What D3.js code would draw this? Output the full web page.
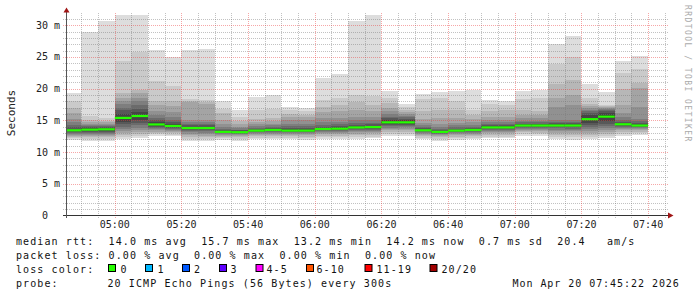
<!DOCTYPE html>
<html><head><meta charset="utf-8">
<script src="https://cdn.jsdelivr.net/npm/d3@7"></script>
<style>
html,body{margin:0;padding:0;background:#fff;}
svg{display:block;}
text{font-family:"DejaVu Sans Mono",monospace;white-space:pre;}
</style></head><body>
<svg id="c" width="697" height="297" xml:space="preserve"></svg>
<script>
// ---------- DATA ----------
const graphStart = "2026-04-20T04:45:22";
const graphEnd   = "2026-04-20T07:45:22";
const barEnds = ["04:50","04:55","05:00","05:05","05:10","05:15","05:20","05:25","05:30","05:35",
  "05:40","05:45","05:50","05:55","06:00","06:05","06:10","06:15","06:20","06:25",
  "06:30","06:35","06:40","06:45","06:50","06:55","07:00","07:05","07:10","07:15",
  "07:20","07:25","07:30","07:35","07:40"];
// median RTT (ms) per 5-minute step
const medians = [13.45,13.55,13.6,15.4,15.7,14.37,14.13,13.8,13.8,13.2,
  13.15,13.4,13.5,13.4,13.4,13.65,13.7,13.9,13.95,14.7,
  14.7,13.45,13.2,13.4,13.5,13.9,13.9,14.2,14.2,14.2,
  14.2,15.2,15.6,14.4,14.2];
// 20 sorted ping RTTs (ms) per step
const pings = [
 [11.97,12.2,12.4,12.6,12.75,12.9,13.0,13.15,13.3,13.4,13.5,13.7,13.9,14.3,14.8,15.2,16.2,16.9,18.1,19.3],
 [11.76,12.0,12.3,12.5,12.7,12.85,13.0,13.15,13.3,13.45,13.65,13.8,13.95,14.1,14.3,14.5,14.75,15.0,15.65,28.94],
 [11.76,12.0,12.3,12.5,12.7,12.9,13.05,13.2,13.35,13.5,13.7,13.85,14.0,14.15,14.3,14.5,14.7,14.95,15.3,30.6],
 [12.0,12.4,12.7,13.0,13.3,13.6,14.0,14.4,14.8,15.2,15.6,16.0,16.6,17.0,17.6,18.1,18.6,19.3,24.4,31.6],
 [12.2,12.5,12.8,13.1,13.4,13.8,14.2,14.6,15.0,15.5,15.9,16.3,16.8,17.4,18.0,18.6,19.3,19.86,25.8,31.6],
 [12.55,12.8,13.0,13.2,13.4,13.6,13.8,14.0,14.15,14.3,14.45,14.7,15.0,15.4,15.9,16.5,17.4,18.07,21.17,26.06],
 [12.55,12.75,12.95,13.15,13.35,13.5,13.65,13.8,13.95,14.05,14.2,14.4,14.7,15.1,15.6,16.3,17.2,18.1,20.4,25.0],
 [11.8,12.1,12.4,12.65,12.9,13.1,13.3,13.45,13.6,13.75,13.85,14.0,14.2,14.45,14.7,15.0,17.9,18.1,18.4,26.06],
 [11.76,12.05,12.35,12.6,12.85,13.05,13.25,13.45,13.6,13.75,13.85,14.0,14.2,14.4,14.7,15.0,17.6,17.9,18.2,26.2],
 [11.97,12.2,12.4,12.55,12.7,12.85,12.95,13.05,13.1,13.15,13.25,13.35,13.5,13.7,14.0,14.4,15.0,16.1,16.76,18.07],
 [11.8,12.05,12.3,12.5,12.65,12.8,12.9,13.0,13.05,13.1,13.2,13.3,13.4,13.55,13.75,14.0,14.4,14.9,15.5,16.6],
 [12.0,12.25,12.5,12.7,12.85,13.0,13.1,13.2,13.3,13.35,13.45,13.55,13.7,13.85,14.1,14.4,14.8,15.2,16.7,18.7],
 [12.0,12.25,12.5,12.7,12.9,13.05,13.2,13.3,13.4,13.45,13.55,13.65,13.8,14.0,14.2,14.5,14.9,15.4,16.76,18.97],
 [12.0,12.25,12.5,12.7,12.85,13.0,13.1,13.2,13.3,13.35,13.45,13.6,13.8,14.1,14.5,15.0,15.6,16.0,16.6,17.1],
 [11.97,12.2,12.45,12.65,12.8,12.95,13.1,13.2,13.3,13.35,13.45,13.6,13.8,14.1,14.5,15.0,15.5,15.9,16.4,16.96],
 [12.0,12.3,12.55,12.8,12.95,13.1,13.25,13.4,13.5,13.6,13.7,13.85,14.0,14.3,14.7,15.3,16.3,17.1,18.2,21.6],
 [12.1,12.35,12.6,12.8,13.0,13.15,13.3,13.45,13.55,13.65,13.75,13.9,14.1,14.4,14.8,15.4,16.4,17.4,18.6,22.27],
 [12.1,12.4,12.65,12.9,13.1,13.3,13.45,13.6,13.75,13.85,13.95,14.1,14.3,14.6,15.0,15.6,16.6,17.9,18.97,30.63],
 [12.2,12.45,12.7,12.95,13.15,13.35,13.5,13.65,13.8,13.9,14.0,14.15,14.35,14.65,15.0,15.6,16.5,17.4,18.8,31.6],
 [12.5,12.8,13.1,13.4,13.65,13.85,14.05,14.25,14.45,14.6,14.8,15.0,15.3,15.6,16.0,16.5,17.0,17.8,18.6,19.6],
 [12.6,12.9,13.2,13.45,13.7,13.9,14.1,14.3,14.45,14.6,14.8,15.0,15.2,15.45,15.7,16.0,16.3,16.7,17.05,17.5],
 [12.0,12.25,12.5,12.7,12.85,13.0,13.15,13.25,13.35,13.4,13.5,13.6,13.75,13.95,14.2,14.6,15.2,16.5,18.3,19.1],
 [11.8,12.05,12.3,12.5,12.65,12.8,12.9,13.0,13.1,13.15,13.25,13.35,13.5,13.7,14.0,14.5,15.3,16.6,18.6,19.5],
 [11.97,12.2,12.45,12.65,12.8,12.95,13.1,13.2,13.3,13.35,13.45,13.55,13.7,13.9,14.2,14.6,15.3,16.6,18.1,19.65],
 [12.0,12.25,12.5,12.7,12.9,13.05,13.2,13.3,13.4,13.45,13.55,13.65,13.8,14.0,14.3,14.7,15.2,15.8,16.6,19.86],
 [12.2,12.45,12.7,12.95,13.15,13.35,13.5,13.65,13.75,13.85,13.95,14.05,14.2,14.45,14.75,15.1,15.6,16.4,17.6,18.17],
 [12.2,12.45,12.7,12.95,13.15,13.35,13.5,13.65,13.75,13.85,13.95,14.05,14.2,14.45,14.75,15.1,15.6,16.6,17.4,18.0],
 [12.6,12.85,13.1,13.35,13.55,13.7,13.85,13.95,14.05,14.15,14.25,14.35,14.5,14.7,14.95,15.3,15.9,16.6,18.3,19.65],
 [12.5,12.8,13.05,13.3,13.5,13.7,13.85,13.95,14.05,14.15,14.25,14.35,14.5,14.7,14.95,15.3,15.8,16.4,18.6,19.86],
 [12.0,12.35,12.7,13.0,13.3,13.55,13.75,13.9,14.05,14.15,14.25,14.4,14.6,14.8,15.0,17.1,18.6,20.8,23.96,27.1],
 [11.97,12.3,12.65,12.95,13.25,13.5,13.7,13.9,14.05,14.15,14.25,14.4,14.6,14.8,15.0,17.4,19.0,21.3,25.0,28.3],
 [12.1,12.4,12.7,13.0,13.3,13.6,13.9,14.2,14.6,15.0,15.4,15.8,16.1,16.4,16.7,17.0,17.3,17.6,18.6,20.8],
 [12.2,12.5,12.8,13.1,13.4,13.75,14.1,14.5,14.9,15.4,15.8,16.1,16.4,16.6,16.8,17.0,17.1,17.25,17.4,19.5],
 [12.55,12.85,13.15,13.4,13.6,13.8,13.95,14.1,14.25,14.35,14.45,14.6,14.8,15.1,15.5,16.1,17.4,19.9,22.5,24.4],
 [12.7,12.95,13.2,13.4,13.6,13.75,13.9,14.0,14.1,14.15,14.25,14.4,14.6,14.85,15.2,17.1,20.1,20.9,23.1,25.2]
];
const yTickValues = [0,5,10,15,20,25,30];
const yTickLabels = [" 0"," 5 m","10 m","15 m","20 m","25 m","30 m"];
const xTickLabels = ["05:00","05:20","05:40","06:00","06:20","06:40","07:00","07:20","07:40"];
const smokeShades = ["#dddddd","#cacaca","#b7b7b7","#a4a4a4","#919191","#7e7e7e","#6b6b6b","#585858","#454545","#323232"];
const lossLabels = ["0","1","2","3","4-5","6-10","11-19","20/20"];
const lossColors = ["#26ff00","#00b8ff","#0059ff","#5e00ff","#ff00ff","#ff5500","#ff0000","#a10000"];
const statsLine = "median rtt:  14.0 ms avg  15.7 ms max  13.2 ms min  14.2 ms now  0.7 ms sd  20.4   am/s";
const lossLine  = "packet loss: 0.00 % avg  0.00 % max  0.00 % min  0.00 % now";
const probeText = "20 ICMP Echo Pings (56 Bytes) every 300s";
const dateText  = "Mon Apr 20 07:45:22 2026";
const yTitle = "Seconds";
const watermark = "RRDTOOL / TOBI OETIKER";

// ---------- CHART ----------
const svg = d3.select("#c");
const day = "2026-04-20T";
const t0 = new Date(graphStart), t1 = new Date(graphEnd);
const x = d3.scaleTime().domain([t0, t1]).range([66, 666]);
const y = d3.scaleLinear().domain([0, 30]).range([215.5, 25.2]);
const plotTop = 15;

svg.append("defs").append("clipPath").attr("id","pc")
  .append("rect").attr("x",66).attr("y",plotTop).attr("width",600).attr("height",215.5-plotTop);

const bars = barEnds.map((e,i)=>{
  const end = new Date(day+e+":00");
  let start = new Date(end.getTime()-5*60000);
  if (start < t0) start = t0;
  return {start, end, p: pings[i], med: medians[i]};
});

const smoke = svg.append("g").attr("clip-path","url(#pc)");
for (let L=0; L<10; L++){
  smoke.selectAll(null).data(bars).join("rect")
    .attr("x", d=>x(d.start)).attr("width", d=>x(d.end)-x(d.start))
    .attr("y", d=>y(d.p[19-L])).attr("height", d=>y(d.p[L])-y(d.p[19-L]))
    .attr("fill", smokeShades[L]).attr("shape-rendering","crispEdges");
}

// grid
const grid = svg.append("g").attr("shape-rendering","crispEdges");
const minorH = d3.range(1, 32);
grid.selectAll(null).data(minorH.filter(v=>v%5!==0)).join("line")
  .attr("x1",63).attr("x2",669).attr("y1",d=>Math.round(y(d))+0.5).attr("y2",d=>Math.round(y(d))+0.5)
  .attr("stroke","rgba(120,120,120,0.45)").attr("stroke-dasharray","1,1");
const minorTimes = d3.timeMinute.every(5).range(new Date(day+"04:50:00"), t1);
grid.selectAll(null).data(minorTimes.filter(t=>t.getMinutes()%20!==0)).join("line")
  .attr("y1",13).attr("y2",218).attr("x1",d=>Math.round(x(d))+0.5).attr("x2",d=>Math.round(x(d))+0.5)
  .attr("stroke","rgba(120,120,120,0.45)").attr("stroke-dasharray","1,1");
grid.selectAll(null).data(yTickValues.filter(v=>v>0)).join("line")
  .attr("x1",63).attr("x2",669).attr("y1",d=>Math.round(y(d))+0.5).attr("y2",d=>Math.round(y(d))+0.5)
  .attr("stroke","rgba(235,60,60,0.45)").attr("stroke-dasharray","1,1");
const majorTimes = xTickLabels.map(s=>new Date(day+s+":00"));
grid.selectAll(null).data(majorTimes).join("line")
  .attr("y1",13).attr("y2",218).attr("x1",d=>Math.round(x(d))+0.5).attr("x2",d=>Math.round(x(d))+0.5)
  .attr("stroke","rgba(235,60,60,0.45)").attr("stroke-dasharray","1,1");

// median lines
svg.append("g").attr("clip-path","url(#pc)").selectAll(null).data(bars).join("rect")
  .attr("x", d=>x(d.start)).attr("width", d=>x(d.end)-x(d.start))
  .attr("y", d=>y(d.med)-1).attr("height",2.2).attr("fill",lossColors[0]);

// axes
svg.append("line").attr("x1",63).attr("x2",669).attr("y1",215.5).attr("y2",215.5).attr("stroke","#333");
svg.append("line").attr("x1",66.5).attr("x2",66.5).attr("y1",218).attr("y2",12).attr("stroke","#555");
svg.append("path").attr("d","M668,212.5L673.5,215.5L668,218.5Z").attr("fill","#a01515");
svg.append("path").attr("d","M63.5,12.5L66.5,7.5L69.5,12.5Z").attr("fill","#a01515");

// tick labels
svg.selectAll(null).data(yTickValues).join("text")
  .attr("x",36).attr("y",d=>y(d)+3.5).attr("font-size",10).attr("fill","#222")
  .text((d,i)=>yTickLabels[i]);
svg.selectAll(null).data(xTickLabels).join("text")
  .attr("x",d=>x(new Date(day+d+":00"))).attr("y",227.5).attr("text-anchor","middle")
  .attr("font-size",10).attr("fill","#222").text(d=>d);

svg.append("text").attr("transform","translate(15,113) rotate(-90)").attr("text-anchor","middle")
  .attr("font-size",11).attr("fill","#222").text(yTitle);
svg.append("text").attr("transform","translate(685,5) rotate(90)")
  .attr("font-size",8).attr("letter-spacing",1.45).attr("fill","#aaaaaa").text(watermark);

// legend
const lg = svg.append("g").attr("font-size",10).attr("letter-spacing",1.1).attr("fill","#111");
lg.append("text").attr("x",16).attr("y",244.5).text(statsLine);
lg.append("text").attr("x",16).attr("y",258.8).text(lossLine);
lg.append("text").attr("x",16).attr("y",273).text("loss color:");
const swX = [108.5,145.5,182.5,219.5,256,306.5,365,430];
const lbX = [120.5,157.5,194,230.5,266.5,316.5,376.5,441.5];
lossLabels.forEach((l,i)=>{
  lg.append("rect").attr("x",swX[i]).attr("y",264.5).attr("width",7).attr("height",7)
    .attr("fill",lossColors[i]).attr("stroke","#000").attr("stroke-width",1);
  lg.append("text").attr("x",lbX[i]).attr("y",273).text(l);
});
lg.append("text").attr("x",16).attr("y",287.3).text("probe:");
lg.append("text").attr("x",107.5).attr("y",287.3).text(probeText);
lg.append("text").attr("x",512.5).attr("y",287.3).attr("letter-spacing",0.95).text(dateText);
</script>
</body></html>
